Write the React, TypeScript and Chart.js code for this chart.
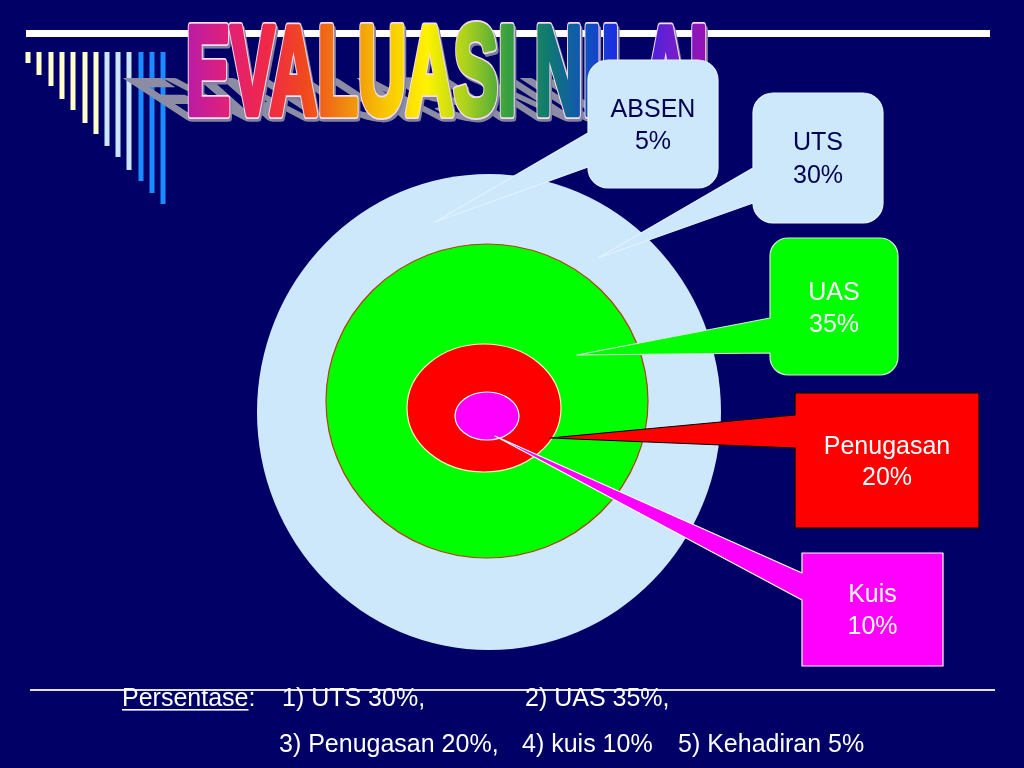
import React, { useEffect, useRef } from 'react';
import { Chart, registerables } from 'chart.js';

Chart.register(...registerables);

// ---- data ----
const titleText = 'EVALUASI NILAI';
const components = ['ABSEN', 'UTS', 'UAS', 'Penugasan', 'Kuis'];
const weights = [5, 30, 35, 20, 10];
const summaryLabel = 'Persentase';
const summaryNames = ['UTS', 'UAS', 'Penugasan', 'kuis', 'Kehadiran'];
const summaryValues = [30, 35, 20, 10, 5];

// ---- layout (data units = slide pixels) ----
const ringCenterX = [489, 487, 484, 487];
const ringCenterY = [412, 401, 408, 416];
const ringRadiusX = [232, 161, 77, 32];
const ringRadiusY = [238, 157, 64, 24];
const ringFill = ['#CCE8FA', '#00FF00', '#FF0000', '#FF00FF'];
const ringStroke = ['', '#B04010', '#FFF0C0', '#FFFFFF'];

const tipX = [435, 598, 577, 550, 495];
const tipY = [222, 258, 355, 438, 436];
const boxX = [588, 753, 770, 795, 802];
const boxY = [60, 93, 238, 393, 553];
const boxW = [130, 130, 128, 184, 141];
const boxH = [128, 130, 137, 135, 113];
const baseTop = [133, 168, 318, 415, 573];
const baseBottom = [167, 203, 353, 448, 600];
const boxRadius = [20, 20, 18, 0, 0];
const boxFill = ['#CCE8FA', '#CCE8FA', '#00FF00', '#FF0000', '#FF00FF'];
const boxStroke = ['#E4F2FF', '#E4F2FF', '#D8E8D8', '#000000', '#FFFFFF'];
const boxText = ['#000050', '#000050', '#FFFFFF', '#FFFFFF', '#FFFFFF'];
const line1Y = [110, 143, 293, 447, 595];
const line2Y = [142, 176, 325, 478, 627];

const barX = [28, 39, 51, 62, 73, 85, 96, 107, 118, 129, 141, 152, 163];
const barBottom = [63, 75, 86, 99, 110, 123, 134, 146, 157, 170, 181, 193, 204];
const barColor = ['#FFFFCC', '#FFFFCC', '#FFFFCC', '#FFFFCC', '#FFFFCC', '#FFFFCC', '#FFFFCC',
  '#CCE5FF', '#CCE5FF', '#CCE5FF', '#1A8CFF', '#1A8CFF', '#1A8CFF'];

const summaryX = [282, 525, 279, 522, 678];
const summaryY = [706, 706, 752, 752, 752];

const FONT = '"Liberation Sans", Arial, sans-serif';

const slidePlugin = {
  id: 'slide',
  beforeDatasetsDraw(chart: any) {
    const ctx: CanvasRenderingContext2D = chart.ctx;
    const xs = chart.scales.x;
    const ys = chart.scales.y;
    const px = (v: number) => xs.getPixelForValue(v);
    const py = (v: number) => ys.getPixelForValue(v);

    ctx.save();
    // top white rule
    ctx.fillStyle = '#FFFFFF';
    ctx.fillRect(px(26), py(30), px(990) - px(26), py(37) - py(30));

    // decorative bars
    barX.forEach((bx, i) => {
      ctx.fillStyle = barColor[i];
      ctx.fillRect(px(bx - 2.5), py(52), px(bx + 2.5) - px(bx - 2.5), py(barBottom[i]) - py(52));
    });

    // title
    ctx.font = `bold 126px ${FONT}`;
    ctx.textBaseline = 'alphabetic';
    ctx.textAlign = 'left';
    ctx.lineJoin = 'round';
    const w = ctx.measureText(titleText).width;
    const x0 = px(186);
    const targetW = px(708) - px(186);
    const sx = targetW / w;
    const base = py(114);

    // shadow
    ctx.save();
    ctx.transform(sx, 0, 0.72, 0.47, x0 - 2, base + 6);
    ctx.fillStyle = '#8C8CA4';
    ctx.strokeStyle = '#8C8CA4';
    ctx.lineWidth = 6;
    ctx.strokeText(titleText, 0, 0);
    ctx.fillText(titleText, 0, 0);
    ctx.restore();

    ctx.save();
    ctx.transform(sx, 0, 0, 1, x0 + 2, base + 3);
    ctx.strokeStyle = '#8080A0';
    ctx.lineWidth = 9;
    ctx.strokeText(titleText, 0, 0);
    ctx.restore();

    ctx.save();
    ctx.transform(sx, 0, 0, 1, x0, base);
    const g = ctx.createLinearGradient(0, 0, w, 0);
    const stops = ['#B81CA8', '#E0207A', '#F02848', '#F04A1C', '#F08A10', '#F8C800', '#FFF200',
      '#A8D020', '#38A040', '#107A70', '#1050C0', '#2020F0', '#6A20D0', '#9A10B0'];
    stops.forEach((c, i) => g.addColorStop(i / (stops.length - 1), c));
    ctx.strokeStyle = '#F6DCEE';
    ctx.lineWidth = 10;
    ctx.strokeText(titleText, 0, 0);
    ctx.strokeStyle = g;
    ctx.lineWidth = 6.5;
    ctx.strokeText(titleText, 0, 0);
    ctx.fillStyle = g;
    ctx.fillText(titleText, 0, 0);
    ctx.restore();

    // rings
    ringCenterX.forEach((cx, i) => {
      ctx.beginPath();
      const rx = px(cx + ringRadiusX[i]) - px(cx);
      const ry = Math.abs(py(ringCenterY[i] + ringRadiusY[i]) - py(ringCenterY[i]));
      ctx.ellipse(px(cx), py(ringCenterY[i]), rx, ry, 0, 0, Math.PI * 2);
      ctx.fillStyle = ringFill[i];
      ctx.fill();
      if (ringStroke[i]) {
        ctx.lineWidth = 1.2;
        ctx.strokeStyle = ringStroke[i];
        ctx.stroke();
      }
    });

    // callouts
    components.forEach((name, i) => {
      const l = px(boxX[i]);
      const t = py(boxY[i]);
      const r = px(boxX[i] + boxW[i]);
      const b = py(boxY[i] + boxH[i]);
      const rad = boxRadius[i];
      ctx.beginPath();
      ctx.moveTo(l + rad, t);
      ctx.lineTo(r - rad, t);
      if (rad) ctx.arcTo(r, t, r, t + rad, rad);
      ctx.lineTo(r, b - rad);
      if (rad) ctx.arcTo(r, b, r - rad, b, rad);
      ctx.lineTo(l + rad, b);
      if (rad) ctx.arcTo(l, b, l, b - rad, rad);
      ctx.lineTo(l, py(baseBottom[i]));
      ctx.lineTo(px(tipX[i]), py(tipY[i]));
      ctx.lineTo(l, py(baseTop[i]));
      ctx.lineTo(l, t + rad);
      if (rad) ctx.arcTo(l, t, l + rad, t, rad);
      ctx.closePath();
      ctx.fillStyle = boxFill[i];
      ctx.fill();
      ctx.lineWidth = 1.2;
      ctx.strokeStyle = boxStroke[i];
      ctx.stroke();

      ctx.fillStyle = boxText[i];
      ctx.font = `25px ${FONT}`;
      ctx.textAlign = 'center';
      ctx.textBaseline = 'middle';
      const cx = (l + r) / 2;
      ctx.fillText(name, cx, py(line1Y[i]));
      ctx.fillText(`${weights[i]}%`, cx, py(line2Y[i]));
    });

    // bottom rule
    ctx.fillStyle = '#E0E0E8';
    ctx.fillRect(px(30), py(689), px(995) - px(30), 2);

    // summary text
    ctx.fillStyle = '#FFFFFF';
    ctx.font = `25px ${FONT}`;
    ctx.textAlign = 'left';
    ctx.textBaseline = 'alphabetic';
    ctx.fillText(summaryLabel, px(122), py(706));
    const lw = ctx.measureText(summaryLabel).width;
    ctx.fillText(':', px(122) + lw, py(706));
    ctx.fillRect(px(122), py(709), lw, 1.6);
    summaryNames.forEach((n, i) => {
      const sep = i < 3 ? ',' : '';
      ctx.fillText(`${i + 1}) ${n} ${summaryValues[i]}%${sep}`, px(summaryX[i]), py(summaryY[i]));
    });
    ctx.restore();
  },
};

export default function App() {
  const ref = useRef<HTMLCanvasElement | null>(null);
  useEffect(() => {
    document.body.style.margin = '0';
    const canvas = ref.current;
    if (!canvas) return;
    const chart = new Chart(canvas, {
      type: 'scatter',
      data: {
        datasets: [
          {
            label: 'callouts',
            data: tipX.map((x, i) => ({ x, y: tipY[i] })),
            pointRadius: 0,
            showLine: false,
          },
        ],
      },
      options: {
        responsive: false,
        maintainAspectRatio: false,
        devicePixelRatio: 1,
        animation: false,
        events: [],
        layout: { padding: 0 },
        plugins: { legend: { display: false }, tooltip: { enabled: false }, title: { display: false } },
        scales: {
          x: { type: 'linear', min: 0, max: 1024, display: false },
          y: { type: 'linear', min: 0, max: 768, reverse: true, display: false },
        },
      },
      plugins: [slidePlugin],
    });
    return () => chart.destroy();
  }, []);
  return (
    <div style={{ position: 'fixed', left: 0, top: 0, width: 1024, height: 768, background: '#000066' }}>
      <canvas ref={ref} width={1024} height={768} style={{ display: 'block' }} />
    </div>
  );
}
